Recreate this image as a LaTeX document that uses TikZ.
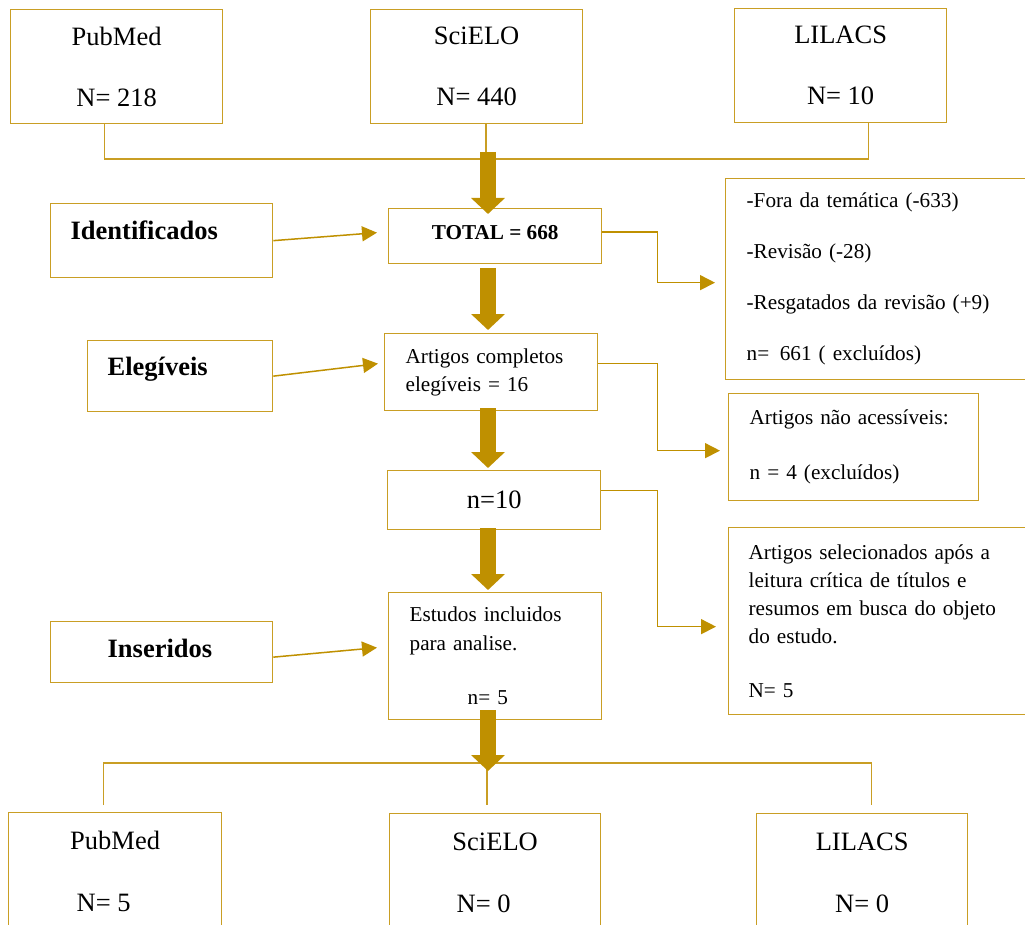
\documentclass[tikz,border=0pt]{standalone}
\usepackage{fontspec}
\setmainfont{Liberation Serif}
\usepackage{tikz}
\usetikzlibrary{arrows.meta, calc}
\definecolor{boxgold}{HTML}{C99E24}
\definecolor{arrowgold}{HTML}{BF9000}

\begin{document}
\begin{tikzpicture}[x=1pt, y=-1pt,
    box/.style={draw=boxgold, line width=1.3pt, anchor=north west, inner sep=0pt, text=black},
    bigtxt/.style={font=\fontsize{26.5}{61}\selectfont, align=center},
    side/.style={font=\fontsize{21.2}{28}\selectfont, align=left},
    stage/.style={font=\bfseries\fontsize{26.5}{32}\selectfont, align=left, text height=18pt, text depth=21pt, inner xsep=20pt},
    line/.style={draw=boxgold, line width=1.3pt},
    arr/.style={draw=arrowgold, line width=1.5pt, -{Triangle[width=15pt, length=15pt]}},
    fat/.style={draw=arrowgold, line width=16pt, -{Triangle[width=33pt, length=16pt]}}
  ]
  \path[use as bounding box] (0,0) rectangle (1025,925);
  \clip (0,0) rectangle (1025,925);

  % databases
  \node[box, bigtxt, minimum width=212pt, minimum height=114pt] (pub1) at (10,9) {PubMed\\N= 218};
  \node[box, bigtxt, minimum width=212pt, minimum height=114pt] (sci1) at (370,9) {SciELO\\N= 440};
  \node[box, bigtxt, minimum width=212pt, minimum height=114pt] (lil1) at (734,8) {LILACS\\N= 10};

  % stages
  \node[box, stage, text width=182pt, minimum height=74pt] (ident) at (50,203) {Identificados};
  \node[box, stage, text width=145pt, minimum height=71pt, text depth=20pt] (eleg) at (87,340) {Elegíveis};
  \node[box, stage, text width=108pt, inner xsep=57pt, minimum height=61pt, text depth=8pt] (insr) at (50,621) {Inseridos};

  % flow
  \node[box, font=\bfseries\fontsize{21.2}{26}\selectfont, minimum width=213pt, minimum height=55pt, text height=14pt, text depth=7pt] (total) at (388,208) {TOTAL = 668};
  \node[box, side, text width=171pt, inner xsep=21pt, minimum height=77pt] (compl) at (384,333) {Artigos completos\\elegíveis = 16};
  \node[box, bigtxt, minimum width=213pt, minimum height=59pt] (n10) at (387,470) {n=10};
  \node[box, side, font=\fontsize{21.2}{29}\selectfont, text width=171pt, inner xsep=21pt, minimum height=127pt] (estud) at (388,592) {Estudos incluidos\\para analise.\\[25pt]\hspace*{58pt}n= 5};

  % exclusions
  \node[box, side, font=\fontsize{21.2}{51}\selectfont, text width=278pt, inner xsep=21pt, minimum height=201pt] (fora) at (725,178) {-Fora da temática (-633)\\-Revisão (-28)\\-Resgatados da revisão (+9)\\n=\enspace 661 ( excluídos)};
  \node[box, side, font=\fontsize{21.2}{55}\selectfont, text width=208pt, inner xsep=21pt, minimum height=107pt] (naoac) at (728,393) {Artigos não acessíveis:\\n = 4 (excluídos)};
  \node[box, side, text width=280pt, inner xsep=20pt, minimum height=187pt] (selec) at (728,527) {Artigos selecionados após a\\leitura crítica de títulos e\\resumos em busca do objeto\\do estudo.\\[26pt]N= 5};

  % results
  \node[box, bigtxt, font=\fontsize{26.5}{62}\selectfont, minimum width=213pt, minimum height=118pt] (pub2) at (8,812) {PubMed\\\hspace*{-23pt}N= 5};
  \node[box, bigtxt, font=\fontsize{26.5}{62}\selectfont, minimum width=211pt, minimum height=118pt] (sci2) at (389,813) {SciELO\\\hspace*{-23pt}N= 0};
  \node[box, bigtxt, font=\fontsize{26.5}{62}\selectfont, minimum width=211pt, minimum height=118pt] (lil2) at (756,813) {LILACS\\N= 0};

  \coordinate (topbar) at (486,159);
  \coordinate (fatstart) at (488,152);
  \coordinate (axis) at (488,0);
  \coordinate (botbar) at (487,763);

  \draw[line] ($(pub1.south)+(-12,0)$) |- (topbar) -| ($(lil1.south)+(28,0)$);
  \draw[line] (sci1.south -| topbar) -- (topbar);
  \draw[line] ($(pub2.north)+(-11.5,-7)$) |- (botbar) -| ($(lil2.north)+(9.5,-8)$);
  \draw[line] (botbar) -- ($(sci2.north -| botbar)+(0,-8)$);

  \draw[arr] (ident.east) -- ($(total.west)+(-11,-3.5)$);
  \draw[arr] (eleg.east) -- ($(compl.west)+(-6,-8.5)$);
  \draw[arr] ($(insr.east)+(0,5)$) -- ($(estud.west)+(-11,-8.5)$);

  \draw[arr] ($(total.east)+(0,-4)$) -- ++(55,0) |- ($(fora.west)+(-10,3.5)$);
  \draw[arr] ($(compl.east)+(0,-8.5)$) -- ++(59,0) |- ($(naoac.west)+(-8,3.5)$);
  \draw[arr] ($(n10.east)+(0,-9.5)$) -- ++(56,0) |- ($(selec.west)+(-12,5.5)$);

  \draw[fat] (fatstart) -- ($(total.north -| axis)+(0,6)$);
  \draw[fat] ($(total.south -| axis)+(0,4)$) -- ($(compl.north -| axis)+(0,-3)$);
  \draw[fat] ($(compl.south -| axis)+(0,-3)$) -- ($(n10.north -| axis)+(0,-2)$);
  \draw[fat] ($(n10.south -| axis)+(0,-2)$) -- ($(estud.north -| axis)+(0,-2)$);
  \draw[fat] ($(estud.south -| axis)+(0,-10)$) -- ($(botbar -| axis)+(0,8)$);
\end{tikzpicture}
\end{document}
